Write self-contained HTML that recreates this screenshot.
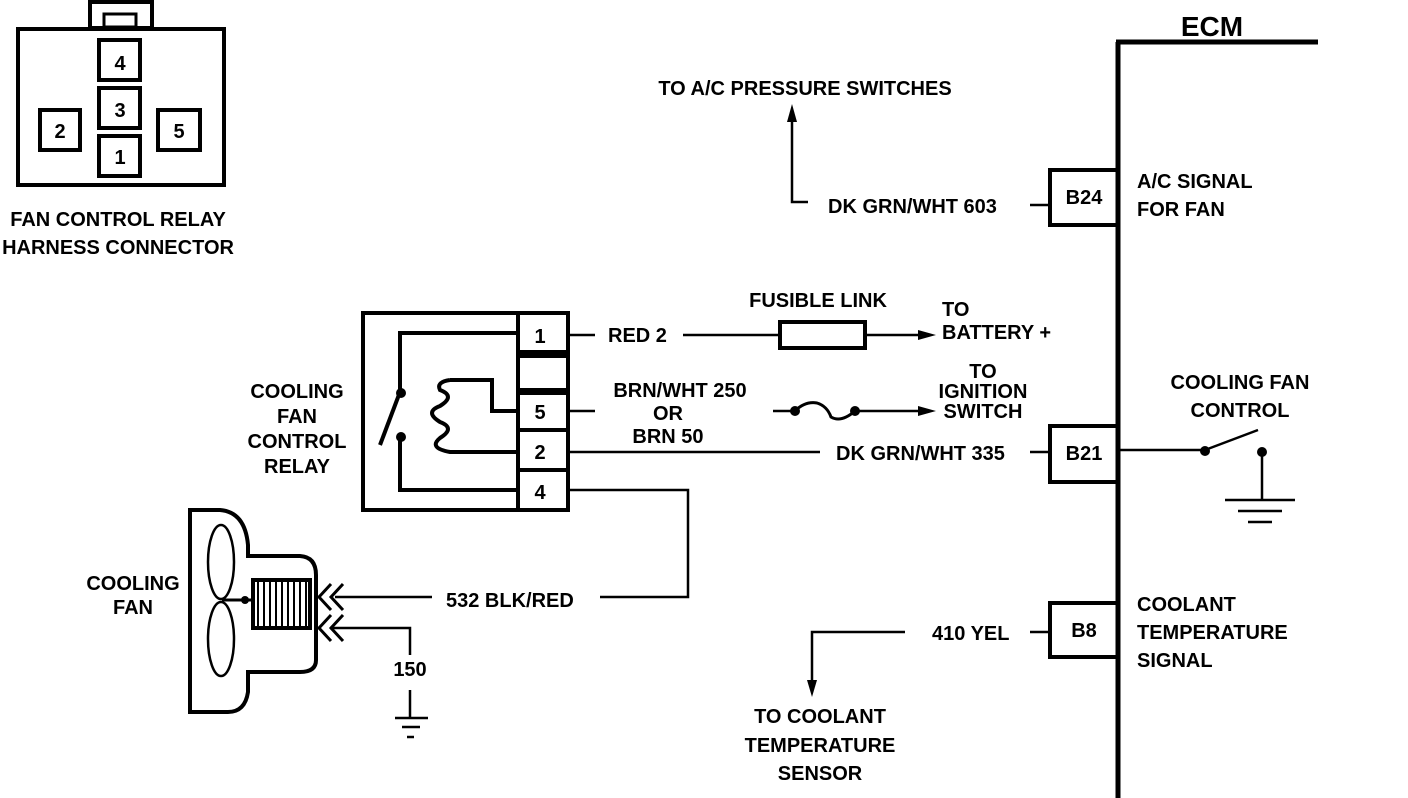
<!DOCTYPE html>
<html><head><meta charset="utf-8"><style>
html,body{margin:0;padding:0;background:#fff;width:1408px;height:798px;overflow:hidden}
svg{display:block}
text{font-family:"Liberation Sans",sans-serif;font-weight:bold;font-size:20px;fill:#000}
.m{text-anchor:middle}
</style></head><body>
<svg width="1408" height="798" viewBox="0 0 1408 798" stroke="#000" fill="none" stroke-linecap="butt">
<g stroke-width="4">
<rect x="90" y="2" width="62" height="26"/>
<rect x="104" y="14" width="32" height="13" stroke-width="3"/>
<rect x="18" y="29" width="206" height="156"/>
<rect x="99" y="40" width="41" height="40"/>
<rect x="99" y="88" width="41" height="40"/>
<rect x="99" y="136" width="41" height="40"/>
<rect x="40" y="110" width="40" height="40"/>
<rect x="158" y="110" width="42" height="40"/>
</g>
<g stroke="none">
<text class="m" x="120" y="70">4</text>
<text class="m" x="120" y="117">3</text>
<text class="m" x="120" y="164">1</text>
<text class="m" x="60" y="138">2</text>
<text class="m" x="179" y="138">5</text>
<text class="m" x="118" y="226">FAN CONTROL RELAY</text>
<text class="m" x="118" y="254">HARNESS CONNECTOR</text>
</g>
<g stroke-width="5">
<line x1="1118" y1="42" x2="1118" y2="798"/>
<line x1="1116" y1="42" x2="1318" y2="42"/>
<rect x="1050" y="170" width="68" height="55" stroke-width="4"/>
<rect x="1050" y="426" width="68" height="56" stroke-width="4"/>
<rect x="1050" y="603" width="68" height="54" stroke-width="4"/>
</g>
<g stroke="none">
<text class="m" x="1212" y="36" style="font-size:28px">ECM</text>
<text class="m" x="1084" y="204">B24</text>
<text class="m" x="1084" y="460">B21</text>
<text class="m" x="1084" y="637">B8</text>
<text x="1137" y="188">A/C SIGNAL</text>
<text x="1137" y="216">FOR FAN</text>
<text class="m" x="1240" y="389">COOLING FAN</text>
<text class="m" x="1240" y="417">CONTROL</text>
<text x="1137" y="611">COOLANT</text>
<text x="1137" y="639">TEMPERATURE</text>
<text x="1137" y="667">SIGNAL</text>
<text class="m" x="805" y="95">TO A/C PRESSURE SWITCHES</text>
<text x="828" y="213">DK GRN/WHT 603</text>
<text class="m" x="818" y="307">FUSIBLE LINK</text>
<text x="942" y="316">TO</text>
<text x="942" y="339">BATTERY +</text>
<text x="608" y="342">RED 2</text>
<text class="m" x="680" y="397">BRN/WHT 250</text>
<text class="m" x="668" y="420">OR</text>
<text class="m" x="668" y="443">BRN 50</text>
<text class="m" x="983" y="378">TO</text>
<text class="m" x="983" y="398">IGNITION</text>
<text class="m" x="983" y="418">SWITCH</text>
<text x="836" y="460">DK GRN/WHT 335</text>
<text x="446" y="607">532 BLK/RED</text>
<text class="m" x="410" y="676">150</text>
<text x="932" y="640">410 YEL</text>
<text class="m" x="820" y="723">TO COOLANT</text>
<text class="m" x="820" y="752">TEMPERATURE</text>
<text class="m" x="820" y="780">SENSOR</text>
<text class="m" x="297" y="398">COOLING</text>
<text class="m" x="297" y="423">FAN</text>
<text class="m" x="297" y="448">CONTROL</text>
<text class="m" x="297" y="473">RELAY</text>
<text class="m" x="133" y="590">COOLING</text>
<text class="m" x="133" y="614">FAN</text>
</g>
<g stroke-width="2.5">
<polyline points="808,202 792,202 792,112"/>
<line x1="1030" y1="205" x2="1050" y2="205"/>
<line x1="1118" y1="450" x2="1205" y2="450"/>
<line x1="1205" y1="450" x2="1258" y2="430"/>
<line x1="1262" y1="452" x2="1262" y2="500"/>
<line x1="1225" y1="500" x2="1295" y2="500"/>
<line x1="1238" y1="511" x2="1282" y2="511"/>
<line x1="1248" y1="522" x2="1272" y2="522"/>
<polyline points="905,632 812,632 812,685"/>
<line x1="1030" y1="632" x2="1050" y2="632"/>
</g>
<g fill="#000" stroke="none">
<polygon points="792,104 787,122 797,122"/>
<polygon points="812,697 807,680 817,680"/>
<circle cx="1205" cy="451" r="5"/>
<circle cx="1262" cy="452" r="5"/>
<polygon points="936,335 918,330 918,340"/>
<polygon points="936,411 918,406 918,416"/>
<circle cx="795" cy="411" r="5"/>
<circle cx="855" cy="411" r="5"/>
</g>
<g stroke-width="4">
<rect x="363" y="313" width="205" height="197"/>
<line x1="518" y1="313" x2="518" y2="510"/>
<line x1="518" y1="352" x2="568" y2="352"/>
<line x1="518" y1="356" x2="568" y2="356"/>
<line x1="518" y1="390" x2="568" y2="390"/>
<line x1="518" y1="393" x2="568" y2="393"/>
<line x1="518" y1="430" x2="568" y2="430"/>
<line x1="518" y1="470" x2="568" y2="470"/>
<polyline points="518,333 400,333 400,392"/>
<line x1="400" y1="392" x2="380" y2="445"/>
<polyline points="400,437 400,490 518,490"/>
<polyline points="518,411 492,411 492,380 450,380"/>
<path d="M450,380 q-14,2 -10,10 q16,6 0,16 q-16,6 0,16 q16,6 0,16 q-12,10 10,14 L518,452"/>
</g>
<g fill="#000" stroke="none">
<circle cx="401" cy="393" r="5"/>
<circle cx="401" cy="437" r="5"/>
<text class="m" x="540" y="343">1</text>
<text class="m" x="540" y="419">5</text>
<text class="m" x="540" y="459">2</text>
<text class="m" x="540" y="499">4</text>
</g>
<g stroke-width="2.5">
<line x1="568" y1="335" x2="595" y2="335"/>
<line x1="683" y1="335" x2="780" y2="335"/>
<line x1="865" y1="335" x2="920" y2="335"/>
<line x1="568" y1="411" x2="595" y2="411"/>
<line x1="773" y1="411" x2="795" y2="411"/>
<path d="M795,411 q10,-10 22,-8 q10,3 14,14 q10,6 24,-6" stroke-width="3"/>
<line x1="855" y1="411" x2="920" y2="411"/>
<line x1="568" y1="452" x2="820" y2="452"/>
<line x1="1030" y1="452" x2="1050" y2="452"/>
<polyline points="568,490 688,490 688,597 600,597"/>
<line x1="335" y1="597" x2="432" y2="597"/>
<polyline points="330,628 410,628 410,655"/>
<line x1="410" y1="690" x2="410" y2="718"/>
<line x1="395" y1="718" x2="428" y2="718"/>
<line x1="402" y1="727" x2="420" y2="727"/>
<line x1="407" y1="737" x2="414" y2="737"/>
</g>
<rect x="780" y="322" width="85" height="26" stroke-width="4"/>
<g stroke-width="4">
<path d="M190,510 H220 Q245,512 248,545 V556 H300 Q316,557 316,575 V660 Q316,672 300,672 H248 V692 Q245,712 228,712 H190 Z"/>
<ellipse cx="221" cy="562" rx="13" ry="37" stroke-width="2.5"/>
<ellipse cx="221" cy="639" rx="13" ry="37" stroke-width="2.5"/>
<rect x="253" y="580" width="57" height="48"/>
</g>
<g stroke-width="2">
<line x1="258" y1="582" x2="258" y2="626"/><line x1="264" y1="582" x2="264" y2="626"/>
<line x1="270" y1="582" x2="270" y2="626"/><line x1="276" y1="582" x2="276" y2="626"/>
<line x1="282" y1="582" x2="282" y2="626"/><line x1="288" y1="582" x2="288" y2="626"/>
<line x1="294" y1="582" x2="294" y2="626"/><line x1="300" y1="582" x2="300" y2="626"/>
<line x1="306" y1="582" x2="306" y2="626"/>
<line x1="222" y1="600" x2="253" y2="600" stroke-width="3"/>
</g>
<circle cx="245" cy="600" r="4" fill="#000" stroke="none"/>
<g stroke-width="3">
<polyline points="331,584 319,597 331,610"/><polyline points="343,584 331,597 343,610"/>
<polyline points="331,615 319,628 331,641"/><polyline points="343,615 331,628 343,641"/>
</g>
</svg>
</body></html>
